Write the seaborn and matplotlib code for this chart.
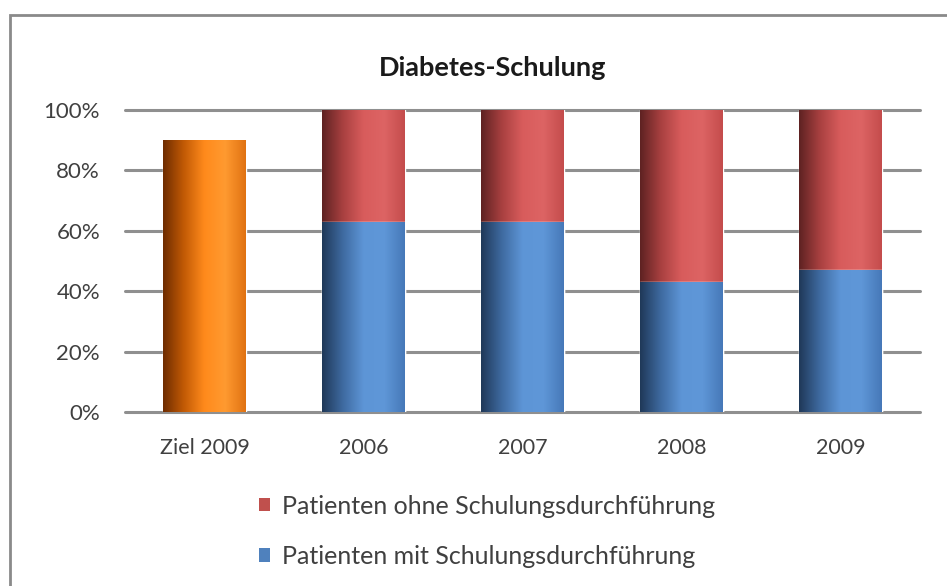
import numpy as np
import pandas as pd
import matplotlib
matplotlib.use("Agg")
import matplotlib.pyplot as plt
from matplotlib.colors import LinearSegmentedColormap
from matplotlib.patches import Patch, Rectangle
import seaborn as sns

categories = ["Ziel 2009", "2006", "2007", "2008", "2009"]
target_label = "Ziel 2009"
target_value = [90]
years = ["2006", "2007", "2008", "2009"]
mit_schulung = [63, 63, 43, 47]
ohne_schulung = [37, 37, 57, 53]
yticks = [0, 20, 40, 60, 80, 100]
ytick_labels = ["0%", "20%", "40%", "60%", "80%", "100%"]

title = "Diabetes-Schulung"
label_ohne = "Patienten ohne Schulungsdurchführung"
label_mit = "Patienten mit Schulungsdurchführung"

sns.set_theme(style="white")
plt.rcParams["font.family"] = ["Lato", "DejaVu Sans"]

text_color = "#404040"
grid_color = "#8f8f8f"

# cylinder-style shading ramps (dark left edge -> highlight -> slightly darker right edge)
ramps = {
    "orange": ["#6e2c00", "#c25a05", "#ff8a1c", "#ff9a30", "#e07212"],
    "red": ["#5e2222", "#a84040", "#d85c5c", "#dd6464", "#c44c4c"],
    "blue": ["#1f3858", "#3e6aa0", "#5d95d6", "#5f97d8", "#4678b8"],
}
base = {"orange": "#f07d10", "red": "#c0504d", "blue": "#4f81bd"}

fig = plt.figure(figsize=(9.47, 5.86), dpi=100)
ax = fig.add_axes([125 / 947, 1 - 412 / 586, 795 / 947, 302 / 586])

df_target = pd.DataFrame({"cat": [target_label], "val": target_value})
df_years = pd.DataFrame({
    "cat": years,
    "total": np.array(mit_schulung) + np.array(ohne_schulung),
    "mit": mit_schulung,
})

sns.barplot(data=df_target, x="cat", y="val", order=categories,
            color=base["orange"], width=0.52, ax=ax, saturation=1, zorder=3)
n0 = len(ax.patches)
sns.barplot(data=df_years, x="cat", y="total", order=categories,
            color=base["red"], width=0.52, ax=ax, saturation=1, zorder=3)
n1 = len(ax.patches)
sns.barplot(data=df_years, x="cat", y="mit", order=categories,
            color=base["blue"], width=0.52, ax=ax, saturation=1, zorder=4)

# shade every bar with a horizontal gradient clipped to its rectangle
grad = np.linspace(0, 1, 256).reshape(1, -1)
for i, patch in enumerate(list(ax.patches)):
    h = patch.get_height()
    if not np.isfinite(h) or h <= 0:
        continue
    key = "orange" if i < n0 else ("red" if i < n1 else "blue")
    cmap = LinearSegmentedColormap.from_list(key, ramps[key])
    x0 = patch.get_x()
    w = patch.get_width()
    im = ax.imshow(grad, cmap=cmap, aspect="auto",
                   extent=(x0, x0 + w, patch.get_y(), patch.get_y() + h),
                   zorder=patch.get_zorder() + 0.1, interpolation="bicubic")
    im.set_clip_path(patch)
ax.set_xlim(-0.5, len(categories) - 0.5)
ax.set_ylim(0, 100)

ax.set_yticks(yticks)
ax.set_yticklabels(ytick_labels)
ax.yaxis.grid(True, color=grid_color, linewidth=2.2, zorder=0)
for gl in ax.get_ygridlines():
    gl.set_clip_on(False)
ax.set_axisbelow(True)
for s in ax.spines.values():
    s.set_visible(False)
ax.tick_params(axis="both", length=0, colors=text_color)
ax.tick_params(axis="y", pad=18, labelsize=16)
ax.tick_params(axis="x", pad=19, labelsize=15.5)
ax.set_xlabel("")
ax.set_ylabel("")

fig.text(493 / 947, 1 - 68 / 586, title, ha="center", va="center",
         fontsize=19.5, fontweight="bold", color="#1a1a1a")

handles = [Patch(facecolor=base["red"], edgecolor="none", label=label_ohne),
           Patch(facecolor=base["blue"], edgecolor="none", label=label_mit)]
fig.legend(handles=handles, loc="upper left",
           bbox_to_anchor=(236 / 947, 1 - 472 / 586), frameon=False,
           fontsize=18, labelcolor=text_color, handlelength=0.45,
           handleheight=0.45, handletextpad=0.5, labelspacing=1.1)

# outer chart frame
fig.patches.append(Rectangle((10 / 947, -0.05), 1.1, 1 - 15 / 586 + 0.05,
                             transform=fig.transFigure, fill=False,
                             edgecolor="#8a8a8a", linewidth=2.0))

fig.savefig("out.png", dpi=100)
